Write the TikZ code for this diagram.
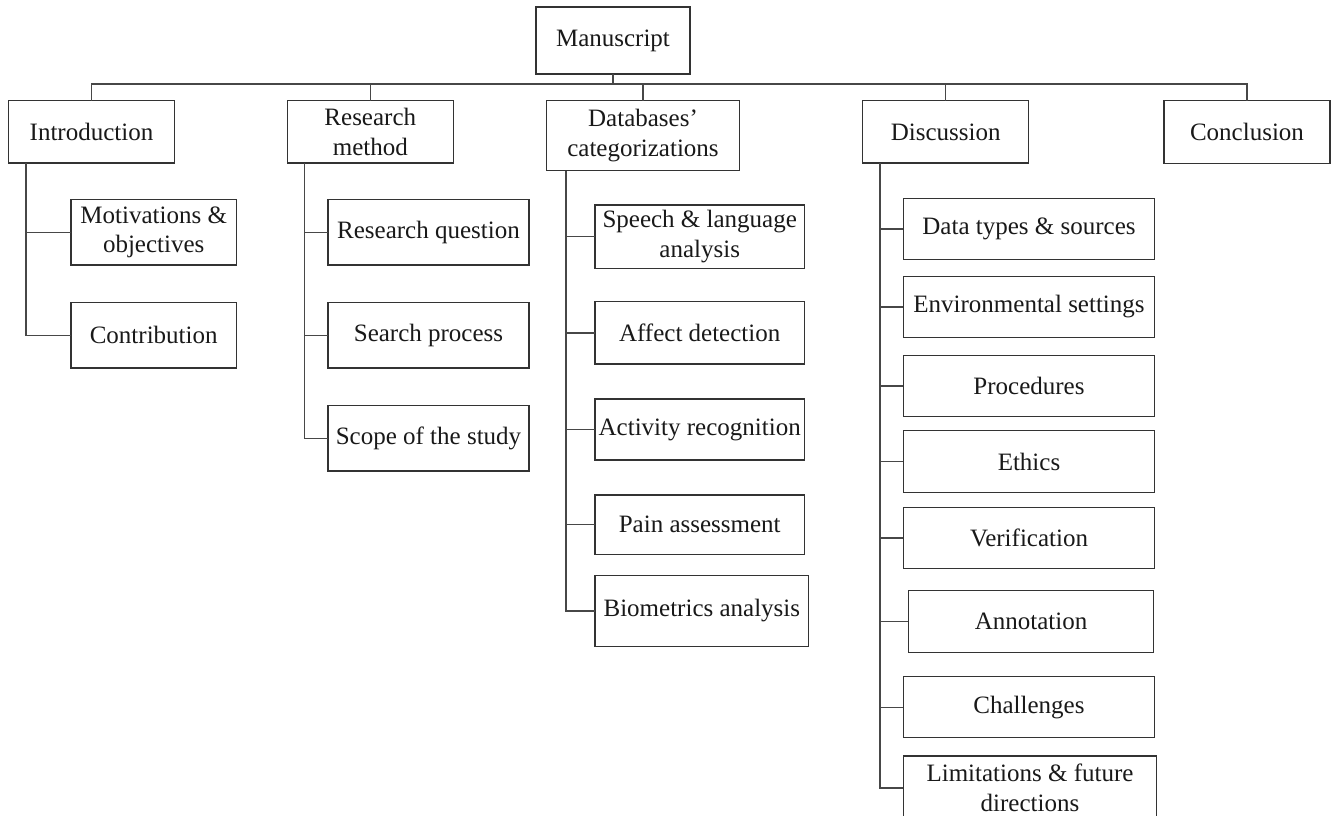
\documentclass[tikz,border=0pt]{standalone}
\usepackage{fontspec}
\setmainfont{Liberation Serif}
\begin{document}
\begin{tikzpicture}[x=1pt,y=-1pt,
  box/.style={draw=black!80, fill=white, line width=1.4pt, inner sep=0pt, outer sep=0pt,
              align=center, text=black!90, font=\fontsize{25}{29.5}\selectfont},
  link/.style={draw=black!72, line width=1.4pt}]
\useasboundingbox (0,0) rectangle (1336,815);
\clip (0,0) rectangle (1336,815);

% root and top-level sections
\node[box, minimum width=154pt, minimum height=67pt] (ms) at (613,40.5) {Manuscript};
\node[box, minimum width=166.4pt, minimum height=62.3pt] (intro) at (91.5,131.85) {Introduction};
\node[box, minimum width=166pt, minimum height=62.3pt] (rm) at (370.3,131.85) {Research\\method};
\node[box, minimum width=192.6pt, minimum height=70pt] (db) at (643,135.7) {Databases’\\categorizations};
\node[box, minimum width=166pt, minimum height=62.3pt] (disc) at (945.7,131.85) {Discussion};
\node[box, minimum width=166pt, minimum height=62.6pt] (concl) at (1247,132) {Conclusion};

% Introduction
\node[box, minimum width=165.4pt, minimum height=65.4pt] (mot) at (153.7,232.3) {Motivations \&\\objectives};
\node[box, minimum width=165.4pt, minimum height=65.4pt] (contr) at (153.7,335.2) {Contribution};

% Research method
\node[box, minimum width=201pt, minimum height=65.4pt] (rq) at (428.5,232.3) {Research question};
\node[box, minimum width=201pt, minimum height=65.4pt] (sp) at (428.5,335.2) {Search process};
\node[box, minimum width=201pt, minimum height=65.4pt] (scope) at (428.5,438.35) {Scope of the study};

% Databases' categorizations
\node[box, minimum width=209.3pt, minimum height=63.3pt] (speech) at (699.7,236.7) {Speech \& language\\analysis};
\node[box, minimum width=209.3pt, minimum height=62.3pt] (affect) at (699.7,332.85) {Affect detection};
\node[box, minimum width=209.3pt, minimum height=61pt] (activity) at (699.7,429.5) {Activity recognition};
\node[box, minimum width=209.3pt, minimum height=59.3pt] (pain) at (699.7,524.7) {Pain assessment};
\node[box, minimum width=213.7pt, minimum height=71.4pt] (bio) at (701.85,611) {Biometrics analysis};

% Discussion
\node[box, minimum width=251.4pt, minimum height=61pt] (data) at (1029,228.8) {Data types \& sources};
\node[box, minimum width=251.4pt, minimum height=60.6pt] (env) at (1029,307) {Environmental settings};
\node[box, minimum width=251.4pt, minimum height=61.4pt] (proc) at (1029,386) {Procedures};
\node[box, minimum width=251.4pt, minimum height=61.6pt] (ethics) at (1029,461.5) {Ethics};
\node[box, minimum width=251.4pt, minimum height=61pt] (verif) at (1029,537.8) {Verification};
\node[box, minimum width=245.4pt, minimum height=62pt] (annot) at (1031,621.3) {Annotation};
\node[box, minimum width=251.4pt, minimum height=61pt] (chall) at (1029,707.2) {Challenges};
\node[box, minimum width=253.4pt, minimum height=64pt] (limit) at (1030,788) {Limitations \& future\\directions};

% bus under the root
\coordinate (bus) at (0,84);
\draw[link] (intro.north) -- (intro.north |- bus) -- (concl.north |- bus) -- (concl.north);
\draw[link] (ms.south) -- (ms.south |- bus);
\foreach \n in {rm,db,disc} \draw[link] (\n.north) -- (\n.north |- bus);

% section spines to their subsections
\foreach \c in {mot,contr} \draw[link] ([xshift=17.7pt]intro.south west) |- (\c.west);
\foreach \c in {rq,sp,scope} \draw[link] ([xshift=17.3pt]rm.south west) |- (\c.west);
\foreach \c in {speech,affect,activity,pain,bio} \draw[link] ([xshift=19.3pt]db.south west) |- (\c.west);
\foreach \c in {data,env,proc,ethics,verif,annot,chall,limit} \draw[link] ([xshift=17.3pt]disc.south west) |- (\c.west);
\end{tikzpicture}
\end{document}
